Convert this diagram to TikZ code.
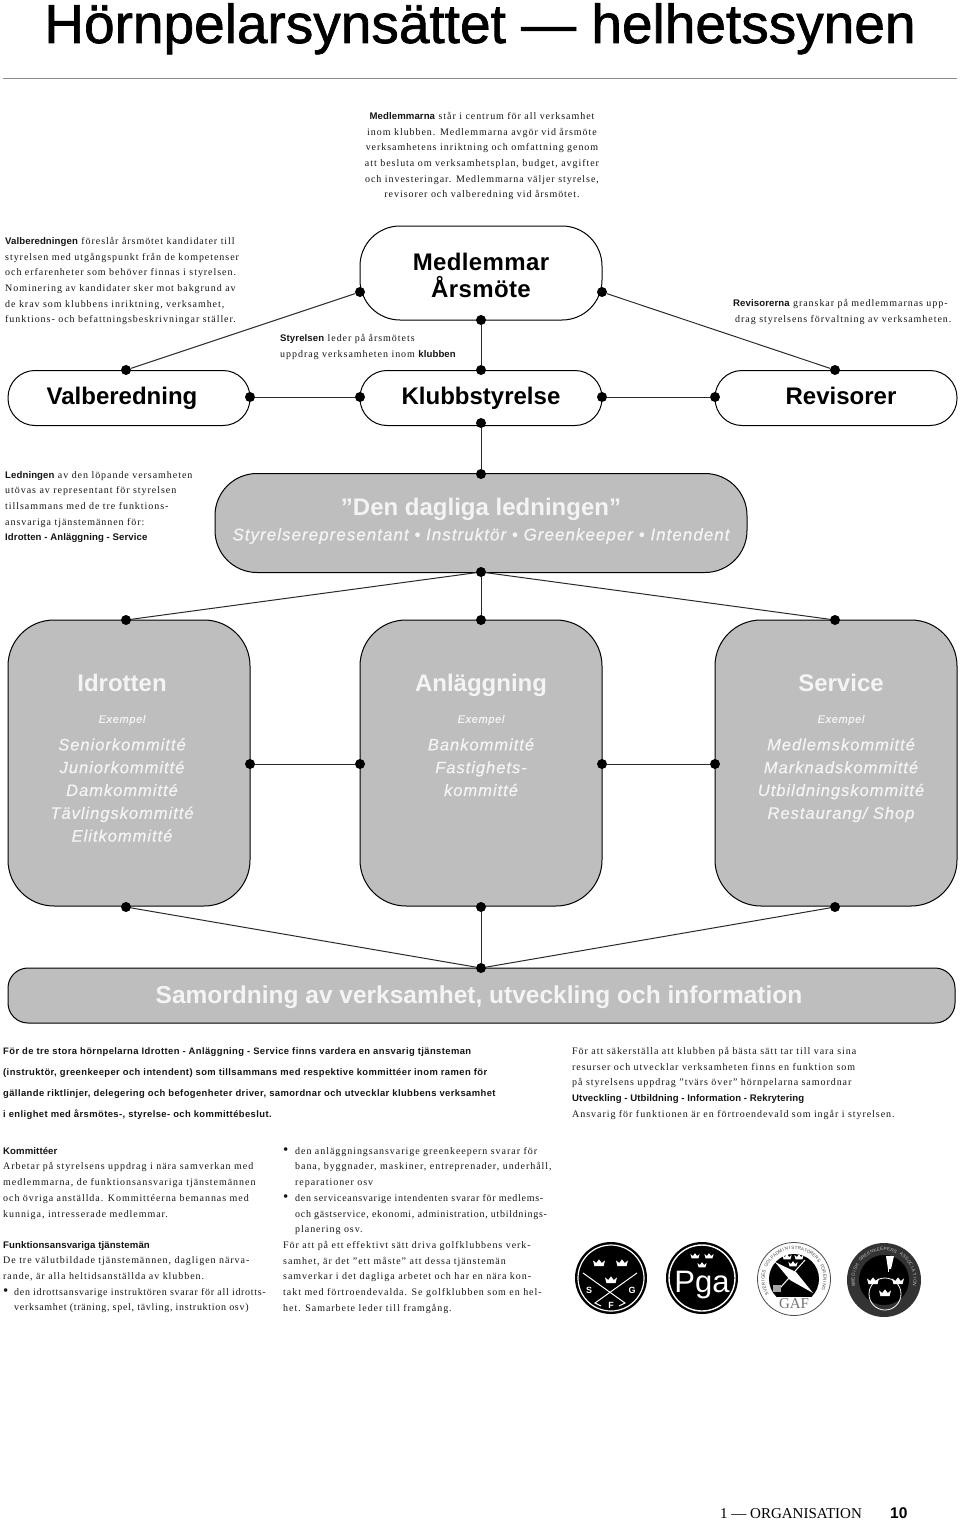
\documentclass[tikz,border=0pt]{standalone}
\usepackage{fontspec}
\usepackage{xcolor}
\usepackage{tikz}
\usetikzlibrary{positioning,calc}
\setmainfont{Liberation Serif}
\setsansfont{Liberation Sans}
\newfontfamily\brodfont[LetterSpace=9.5]{Liberation Serif}
\newfontfamily\tatfont[LetterSpace=7]{Liberation Serif}
\newfontfamily\fetfont[LetterSpace=1]{Liberation Sans Bold}
\newfontfamily\starkfont[LetterSpace=4.4]{Liberation Sans Bold}
\newfontfamily\rubrikfont{Liberation Sans Bold}
\newfontfamily\medfont[LetterSpace=1.5]{Liberation Sans Bold}
\newfontfamily\titelfont[FakeBold=1.2]{Liberation Sans}
\newfontfamily\kursivfont[FakeBold=0.5,LetterSpace=6]{Liberation Sans Italic}
\definecolor{ruta}{HTML}{BEBEBE}
\definecolor{tryck}{HTML}{141414}
\definecolor{ljus}{HTML}{F4F4F4}
\definecolor{streck}{HTML}{2A2A2A}
\newcommand{\fet}[1]{{\fetfont\fontsize{9.6}{15.7}\selectfont #1}}
\newcommand{\tat}[1]{{\tatfont\fontsize{10}{15.7}\selectfont #1}}
\newcommand{\punkt}{{\fontsize{15}{15.7}\selectfont\raisebox{-.6pt}{•}}}
\newcommand{\ringtext}[7]{%
  \foreach \tecken [count=\i] in {#6} {
    \pgfmathsetmacro{\vinkel}{#4+(\i-1)*#5}
    \node[text=#7,inner sep=0,font=\sffamily\fontsize{4.6}{5}\selectfont,rotate={-\vinkel-90}] (tecken\i) at ($(#1,#2)+(\vinkel:#3)$) {\tecken};
  }}
\tikzset{
  krona/.pic={\fill[white] (-4.6,3) -- (-6,-2.6) -- (-2.8,0) -- (0,-3.6) -- (2.8,0) -- (6,-2.6) -- (4.6,3) -- cycle;},
  lillkrona/.pic={\fill[white] (-3.4,2.4) -- (-4.6,-2) -- (-2.1,0) -- (0,-2.8) -- (2.1,0) -- (4.6,-2) -- (3.4,2.4) -- cycle;}
}
\begin{document}
\begin{tikzpicture}[x=1pt,y=-1pt,
  vit/.style={draw=black,line width=1pt,fill=white,inner sep=0},
  gra/.style={draw=black,line width=1pt,fill=ruta,inner sep=0,text=ljus},
  pelare/.style={gra,minimum width=242pt,minimum height=286pt,rounded corners=46pt},
  rubrik/.style={inner sep=0,anchor=base,text=ljus,font=\rubrikfont\fontsize{24}{27}\selectfont},
  svart/.style={inner sep=0,anchor=base,text=black,font=\rubrikfont\fontsize{24}{27}\selectfont},
  exempel/.style={inner sep=0,text=ljus,font=\kursivfont\fontsize{11}{13}\selectfont},
  lista/.style={inner sep=0,text=ljus,align=center,font=\kursivfont\fontsize{16.5}{22.8}\selectfont},
  brod/.style={inner sep=0,text=tryck,font=\brodfont\fontsize{10}{15.7}\selectfont,align=left},
  prick/.style={circle,fill=black,inner sep=0,minimum size=10pt},
  linje/.style={draw=streck,line width=1pt}]
\useasboundingbox (0,0) rectangle (960,1520);
% rubrik
\node[inner sep=0,anchor=base,text=black,font=\titelfont\fontsize{55}{60}\selectfont] (titel) at (480,43) {Hörnpelarsynsättet — helhetssynen};
\coordinate (rad-v) at (3,78);
\coordinate (rad-h) at (957,78);
\draw[draw=black!45,line width=1pt] (rad-v) -- (rad-h);
\node[brod,align=center,anchor=north] (medtext) at (482,112) {\fet{Medlemmarna} står i centrum för all verksamhet\\inom klubben. Medlemmarna avgör vid årsmöte\\verksamhetens inriktning och omfattning genom\\att besluta om verksamhetsplan, budget, avgifter\\och investeringar. Medlemmarna väljer styrelse,\\revisorer och valberedning vid årsmötet.};
\node[brod,anchor=north west] (valtext) at (5,237) {\fet{Valberedningen} föreslår årsmötet kandidater till\\styrelsen med utgångspunkt från de kompetenser\\och erfarenheter som behöver finnas i styrelsen.\\Nominering av kandidater sker mot bakgrund av\\de krav som klubbens inriktning, verksamhet,\\funktions- och befattningsbeskrivningar ställer.};
\node[brod,anchor=north west] (styrtext) at (280,334) {\fet{Styrelsen} leder på årsmötets\\uppdrag verksamheten inom \fet{klubben}};
\node[brod,anchor=north west] (revtext) at (733,299) {\fet{Revisorerna} granskar på medlemmarnas upp-\\\hspace*{2pt}drag styrelsens förvaltning av verksamheten.};
\node[brod,anchor=north west] (ledtext) at (5,471) {\fet{Ledningen} av den löpande versamheten\\utövas av representant för styrelsen\\tillsammans med de tre funktions-\\ansvariga tjänstemännen för:\\\fet{Idrotten - Anläggning - Service}};
% rutor
\node[vit,minimum width=242pt,minimum height=94pt,rounded corners=40pt] (medlem) at (481,273) {};
\node[inner sep=0,align=center,text=black,font=\medfont\fontsize{24}{27}\selectfont] (medrub) at (481,275) {Medlemmar\\Årsmöte};
\node[vit,minimum width=242pt,minimum height=55pt,rounded corners=27pt] (valb) at (129,398) {};
\node[vit,minimum width=242pt,minimum height=55pt,rounded corners=27pt] (klubb) at (481,398) {};
\node[vit,minimum width=242pt,minimum height=55pt,rounded corners=27pt] (rev) at (836,398) {};
\node[svart] (valrub) at (122,404) {Valberedning};
\node[svart] (klubrub) at (481,404) {Klubbstyrelse};
\node[svart] (revrub) at (841,404) {Revisorer};
\node[gra,minimum width=532pt,minimum height=99pt,rounded corners=42pt] (daglig) at (481,523) {};
\node[rubrik] (dagrub) at (481,515) {”Den dagliga ledningen”};
\node[inner sep=0,text=ljus,font=\kursivfont\fontsize{17}{20}\selectfont] (dagsub) at (481,536) {Styrelserepresentant • Instruktör • Greenkeeper • Intendent};
\node[pelare] (idrott) at (129,763) {};
\node[pelare] (anlagg) at (481,763) {};
\node[pelare] (service) at (836,763) {};
\node[rubrik] (idrub) at (122,691) {Idrotten};
\node[rubrik] (anrub) at (481,691) {Anläggning};
\node[rubrik] (serub) at (841,691) {Service};
\node[exempel] (idex) at (122,720) {Exempel};
\node[exempel] (anex) at (481,720) {Exempel};
\node[exempel] (seex) at (841,720) {Exempel};
\node[lista,anchor=north] (idlista) at (122,738) {Seniorkommitté\\Juniorkommitté\\Damkommitté\\Tävlingskommitté\\Elitkommitté};
\node[lista,anchor=north] (anlista) at (481,738) {Bankommitté\\Fastighets-\\kommitté};
\node[lista,anchor=north] (selista) at (841,738) {Medlemskommitté\\Marknadskommitté\\Utbildningskommitté\\Restaurang/ Shop};
\node[gra,minimum width=947pt,minimum height=55pt,rounded corners=20pt] (samord) at (481.5,995.5) {};
\node[rubrik,font=\rubrikfont\fontsize{24.5}{27}\selectfont] (samrub) at (479,1003) {Samordning av verksamhet, utveckling och information};
% prickar
\node[prick] (m-v) at (360,292) {};
\node[prick] (m-h) at (602,292) {};
\node[prick] (m-s) at (481,320) {};
\node[prick] (va-n) at (126,370) {};
\node[prick] (va-o) at (250,397) {};
\node[prick] (kl-v) at (360,397) {};
\node[prick] (kl-n) at (481,370) {};
\node[prick] (kl-o) at (602,397) {};
\node[prick] (kl-s) at (481,423) {};
\node[prick] (re-v) at (715,397) {};
\node[prick] (re-n) at (835,370) {};
\node[prick] (da-n) at (481,474) {};
\node[prick] (da-s) at (481,572) {};
\node[prick] (id-n) at (126,620) {};
\node[prick] (id-o) at (250,764) {};
\node[prick] (id-s) at (126,907) {};
\node[prick] (an-n) at (481,620) {};
\node[prick] (an-v) at (360,764) {};
\node[prick] (an-o) at (602,764) {};
\node[prick] (an-s) at (481,907) {};
\node[prick] (se-n) at (835,620) {};
\node[prick] (se-v) at (715,764) {};
\node[prick] (se-s) at (835,907) {};
\node[prick] (sa-n) at (481,968) {};
% linjer
\draw[linje] (m-v) -- (va-n);
\draw[linje] (m-h) -- (re-n);
\draw[linje] (m-s) -- (kl-n);
\draw[linje] (va-o) -- (kl-v);
\draw[linje] (kl-o) -- (re-v);
\draw[linje] (kl-s) -- (da-n);
\draw[linje] (da-s) -- (id-n);
\draw[linje] (da-s) -- (an-n);
\draw[linje] (da-s) -- (se-n);
\draw[linje] (id-o) -- (an-v);
\draw[linje] (an-o) -- (se-v);
\draw[linje] (id-s) -- (sa-n);
\draw[linje] (an-s) -- (sa-n);
\draw[linje] (se-s) -- (sa-n);
% texter nederst
\node[inner sep=0,text=tryck,anchor=north west,align=left,font=\starkfont\fontsize{9.4}{21}\selectfont] (fortext) at (3,1047) {För de tre stora hörnpelarna Idrotten - Anläggning - Service finns vardera en ansvarig tjänsteman\\(instruktör, greenkeeper och intendent) som tillsammans med respektive kommittéer inom ramen för\\gällande riktlinjer, delegering och befogenheter driver, samordnar och utvecklar klubbens verksamhet\\i enlighet med årsmötes-, styrelse- och kommittébeslut.};
\node[brod,anchor=north west] (saktext) at (572,1047) {För att säkerställa att klubben på bästa sätt tar till vara sina\\resurser och utvecklar verksamheten finns en funktion som\\på styrelsens uppdrag ”tvärs över” hörnpelarna samordnar\\\fet{Utveckling - Utbildning - Information - Rekrytering}\\Ansvarig för funktionen är en förtroendevald som ingår i styrelsen.};
\node[brod,anchor=north west] (komtext) at (3,1147) {\fet{Kommittéer}\\Arbetar på styrelsens uppdrag i nära samverkan med\\medlemmarna, de funktionsansvariga tjänstemännen\\och övriga anställda. Kommittéerna bemannas med\\kunniga, intresserade medlemmar.};
\node[brod,anchor=north west] (funktext) at (3,1241) {\fet{Funktionsansvariga tjänstemän}\\De tre välutbildade tjänstemännen, dagligen närva-\\rande, är alla heltidsanställda av klubben.\\\makebox[11pt][l]{\punkt}\tat{den idrottsansvarige instruktören svarar för all idrotts-}\\\hspace*{11pt}\tat{verksamhet (träning, spel, tävling, instruktion osv)}};
\node[brod,anchor=north west] (hogertext) at (283,1147) {\makebox[12pt][l]{\punkt}den anläggningsansvarige greenkeepern svarar för\\\hspace*{12pt}bana, byggnader, maskiner, entreprenader, underhåll,\\\hspace*{12pt}reparationer osv\\\makebox[12pt][l]{\punkt}\tat{den serviceansvarige intendenten svarar för medlems-}\\\hspace*{12pt}\tat{och gästservice, ekonomi, administration, utbildnings-}\\\hspace*{12pt}planering osv.\\För att på ett effektivt sätt driva golfklubbens verk-\\samhet, är det ”ett måste” att dessa tjänstemän\\samverkar i det dagliga arbetet och har en nära kon-\\takt med förtroendevalda. Se golfklubben som en hel-\\het. Samarbete leder till framgång.};
% sidfot
\node[inner sep=0,anchor=base west,text=black,font=\rmfamily\fontsize{15}{18}\selectfont] (kapitel) at (720,1518) {1 — ORGANISATION};
\node[inner sep=0,anchor=base west,text=black,font=\sffamily\bfseries\fontsize{15.5}{18}\selectfont] (sidnr) at (890,1518) {10};
% logotyper
\fill[black] (611,1278) circle (36);
\draw[white,line width=1.2pt] (611,1278) circle (33);
\pic at (599,1263) {krona};
\pic at (622,1263) {krona};
\pic at (611,1280) {krona};
\draw[white,line width=1pt] (583,1273) -- (625,1303) -- (619,1306);
\draw[white,line width=1pt] (637,1273) -- (595,1303) -- (601,1306);
\node[text=white,inner sep=0,font=\sffamily\bfseries\fontsize{9}{10}\selectfont] (sfg-s) at (589,1290) {S};
\node[text=white,inner sep=0,font=\sffamily\bfseries\fontsize{9}{10}\selectfont] (sfg-g) at (632,1290) {G};
\node[text=white,inner sep=0,font=\sffamily\bfseries\fontsize{9}{10}\selectfont] (sfg-f) at (611,1305) {F};
\fill[black] (702,1278) circle (36);
\draw[white,line width=1.4pt] (702,1278) circle (33);
\pic at (695,1256) {lillkrona};
\pic at (709,1256) {lillkrona};
\pic at (702,1265) {lillkrona};
\node[text=white,inner sep=0,font=\sffamily\fontsize{31}{36}\selectfont] (pga) at (702,1285) {Pga};
\fill[white,draw=black!70,line width=.8pt] (794,1279) circle (36.5);
\begin{scope}
\clip (750,1240) rectangle (840,1296);
\fill[black] (794,1279) circle (25);
\end{scope}
\ringtext{794}{1279}{31}{152}{6.1}{S,V,E,R,I,G,E,S,{},G,O,L,F,A,D,M,I,N,I,S,T,R,A,T,Ö,R,E,R,S,{},F,Ö,R,E,N,I,N,G}{black!70}
\pic at (787,1257) {lillkrona};
\pic at (799,1257) {lillkrona};
\pic at (793,1264) {lillkrona};
\fill[white] (775,1262) -- (796,1272) -- (813,1293) -- (790,1280) -- cycle;
\draw[white,line width=1pt] (805,1260) -- (780,1288);
\fill[black!35] (773,1285) -- (781,1285) -- (781,1292) -- (773,1292) -- cycle;
\node[text=black!55,inner sep=0,font=\rmfamily\fontsize{15}{16}\selectfont] (gaf) at (794,1304) {GAF};
\fill[black!80] (884,1280) circle (37);
\fill[black] (884,1280) circle (25);
\ringtext{884}{1280}{31}{170}{6.4}{S,W,E,D,I,S,H,{},G,R,E,E,N,K,E,E,P,E,R,S,{},A,S,S,O,C,I,A,T,I,O,N}{black!25}
\draw[white,line width=.8pt] (885,1294) circle (16);
\fill[white] (886,1256) -- (894,1256) -- (891,1269) -- (888,1269) -- cycle;
\draw[white,line width=1pt] (888,1256) -- (888,1272);
\pic at (873,1281) {krona};
\pic at (898,1281) {krona};
\pic at (885,1293) {krona};
\end{tikzpicture}
\end{document}
